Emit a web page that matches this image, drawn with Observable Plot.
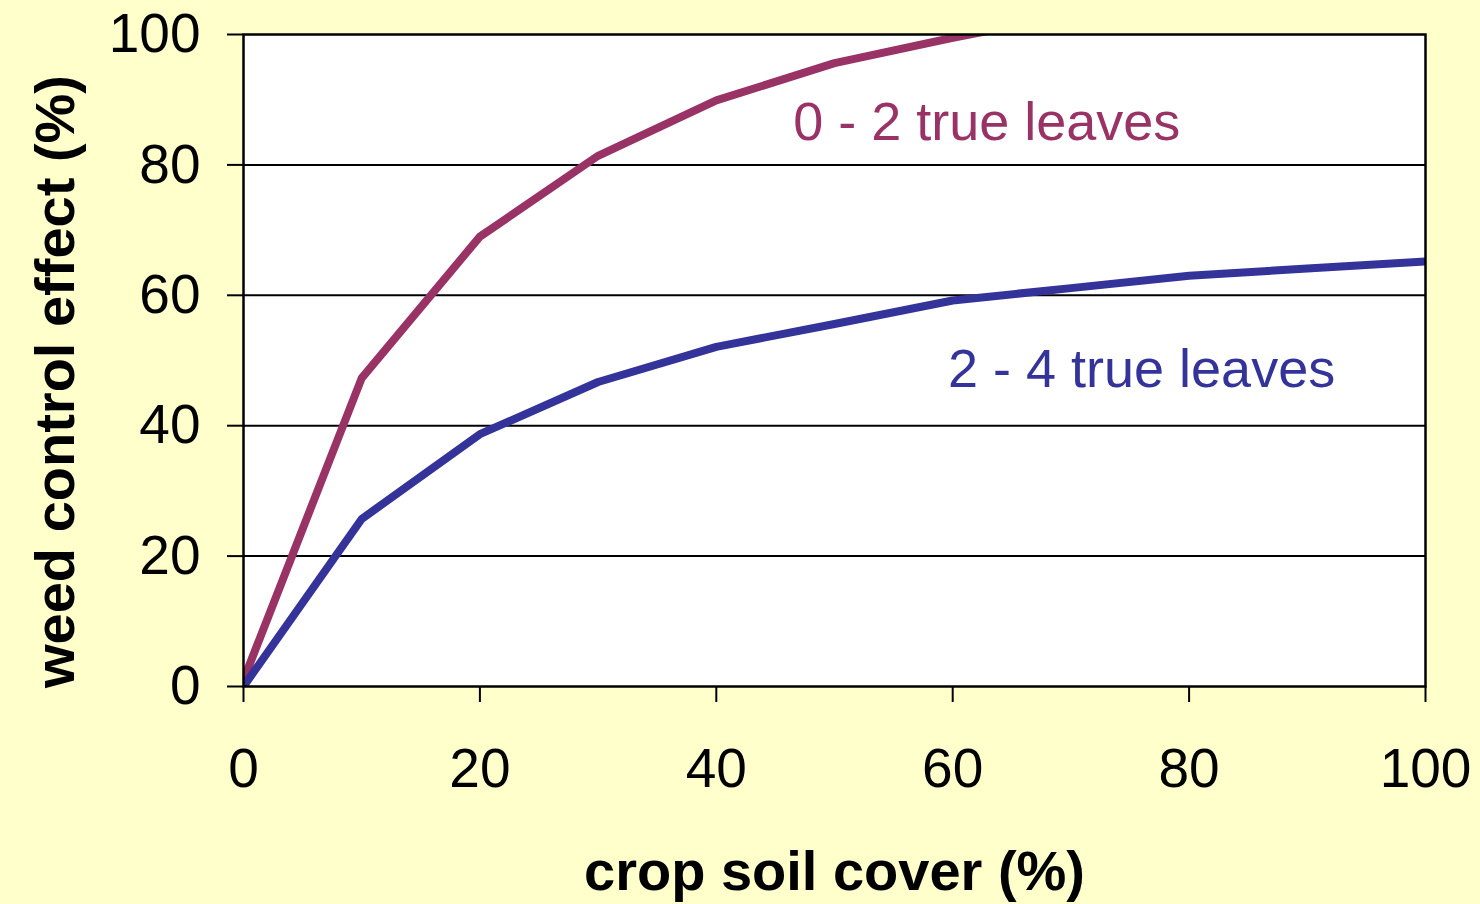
<!DOCTYPE html>
<html><head><meta charset="utf-8">
<script src="https://cdn.jsdelivr.net/npm/d3@7"></script>
<script src="https://cdn.jsdelivr.net/npm/@observablehq/plot@0.6"></script>
<style>
html,body{margin:0;padding:0;background:#FFFFCC;}
svg{display:block;}
</style></head><body><div id="chart"></div>
<script>
// Data
const cover02 = [0, 10, 20, 30, 40, 50, 60, 70];
const effect02 = [1, 47.3, 69, 81.4, 89.9, 95.6, 99.5, 103];
const cover24 = [0, 10, 20, 30, 40, 50, 60, 70, 80, 90, 100];
const effect24 = [0, 25.7, 38.7, 46.7, 52.1, 55.6, 59.2, 61.1, 63, 64.1, 65.2];
const xTicks = [0, 20, 40, 60, 80, 100];
const yTicks = [0, 20, 40, 60, 80, 100];
const gridTicks = [20, 40, 60, 80];
const seriesNames = ["0 - 2 true leaves", "2 - 4 true leaves"];
const seriesColors = ["#993366", "#333399"];
const labelX = [46.5, 59.6];
const labelY = [86.5, 48.6];
const xTitle = "crop soil cover (%)";
const yTitle = "weed control effect (%)";

const s02 = cover02.map((x, i) => ({x, y: effect02[i]}));
const s24 = cover24.map((x, i) => ({x, y: effect24[i]}));
const labels = seriesNames.map((t, i) => ({t, x: labelX[i], y: labelY[i], c: seriesColors[i]}));

const font = "'Liberation Sans', Arial, Helvetica, sans-serif";

const chart = Plot.plot({
  width: 1480,
  height: 904,
  marginLeft: 243,
  marginRight: 55,
  marginTop: 34,
  marginBottom: 218,
  style: {background: "#FFFFCC", fontFamily: font, color: "black", overflow: "visible"},
  x: {domain: [0, 100]},
  y: {domain: [0, 100]},
  marks: [
    Plot.frame({fill: "white", stroke: null}),
    Plot.ruleY(gridTicks, {stroke: "black", strokeWidth: 2}),
    Plot.line(s02, {x: "x", y: "y", stroke: seriesColors[0], strokeWidth: 8, strokeLinecap: "round", clip: true}),
    Plot.line(s24, {x: "x", y: "y", stroke: seriesColors[1], strokeWidth: 8, strokeLinecap: "round", clip: true}),
    Plot.frame({stroke: "black", strokeWidth: 2.5}),
    Plot.axisY(yTicks, {tickSize: 16, tickPadding: 27, fontSize: 55, label: null, strokeWidth: 2, fill: "black"}),
    Plot.axisX(xTicks, {tickSize: 16, tickPadding: 45, fontSize: 55, label: null, strokeWidth: 2, fill: "black"}),
    Plot.text(labels, {x: "x", y: "y", text: "t", fill: "c", textAnchor: "start", lineAnchor: "middle", fontSize: 54}),
    Plot.text([yTitle], {text: d => d, frameAnchor: "left", textAnchor: "middle", rotate: -90, dx: -187, dy: 21, fontSize: 56, fontWeight: "bold", lineAnchor: "middle", fill: "black"}),
    Plot.text([xTitle], {text: d => d, frameAnchor: "bottom", textAnchor: "middle", dy: 186, fontSize: 56, fontWeight: "bold", lineAnchor: "middle", fill: "black"})
  ]
});
document.getElementById("chart").appendChild(chart);
</script>
</body></html>
